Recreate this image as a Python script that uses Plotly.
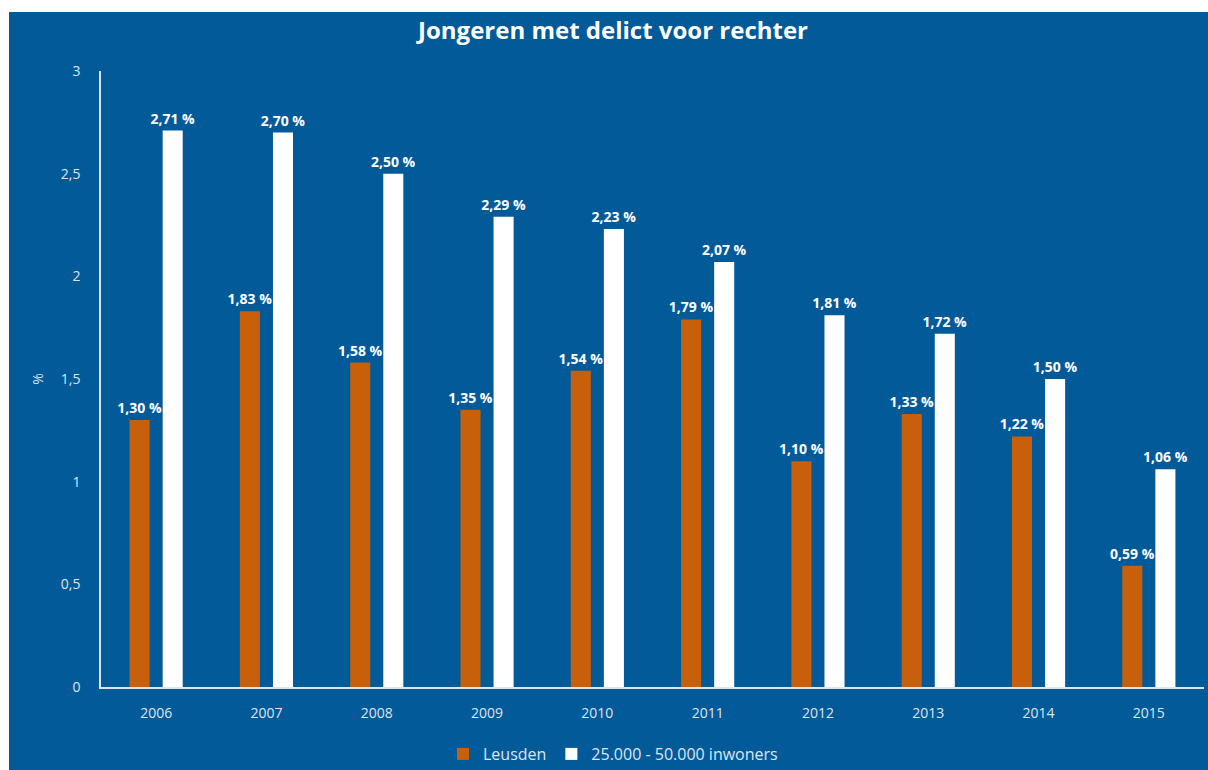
import plotly.graph_objects as go

years = ["2006", "2007", "2008", "2009", "2010", "2011", "2012", "2013", "2014", "2015"]
leusden = [1.30, 1.83, 1.58, 1.35, 1.54, 1.79, 1.10, 1.33, 1.22, 0.59]
inwoners = [2.71, 2.70, 2.50, 2.29, 2.23, 2.07, 1.81, 1.72, 1.50, 1.06]
y_ticks = [0, 0.5, 1, 1.5, 2, 2.5, 3]

BLUE = "#035a99"
ORANGE = "#c8600b"
LIGHT = "#dbe6f0"
FONT = "Open Sans"

# page margin: 12px top, 9px left; figure fills the rest of the window
W, H = 1199, 758
L, R, T, B = 92, 4, 59, 83

fig = go.Figure()
fig.add_trace(go.Bar(
    x=years, y=leusden, name="Leusden", marker=dict(color=ORANGE, line=dict(width=0)),
    texttemplate="%{y:.2f} %", textposition="outside", cliponaxis=False, constraintext="none",
    textfont=dict(family=FONT, size=14, color="white", weight="bold"),
))
fig.add_trace(go.Bar(
    x=years, y=inwoners, name="25.000 - 50.000 inwoners", marker=dict(color="white", line=dict(width=0)),
    texttemplate="%{y:.2f} %", textposition="outside", cliponaxis=False, constraintext="none",
    textfont=dict(family=FONT, size=14, color="white", weight="bold"),
))

fig.update_layout(
    width=W, height=H,
    margin=dict(l=L, r=R, t=T, b=B),
    paper_bgcolor=BLUE, plot_bgcolor=BLUE,
    separators=",.",
    barmode="group", bargap=0.4, bargroupgap=0.394,
    font=dict(family=FONT, color=LIGHT, size=14),
    title=dict(text="<b>Jongeren met delict voor rechter</b>", x=604 / W, xanchor="center",
               y=1 - 19 / H, yanchor="middle", yref="container",
               font=dict(family=FONT, size=24, color="white")),
    showlegend=True,
    legend=dict(orientation="h", xref="container", yref="container",
                x=604 / W, xanchor="center", y=1 - 742 / H, yanchor="middle",
                font=dict(family=FONT, size=16, color=LIGHT), itemwidth=30,
                bgcolor="rgba(0,0,0,0)"),
    xaxis=dict(type="category", showgrid=False, showline=True, linecolor=LIGHT, linewidth=1.5,
               ticks="", ticklabelstandoff=12, tickfont=dict(size=14, color=LIGHT), zeroline=False),
    yaxis=dict(range=[0, 3], tickvals=y_ticks, showgrid=False, showline=True, linecolor=LIGHT,
               linewidth=1.5, ticks="", ticklabelstandoff=16, zeroline=False,
               tickfont=dict(size=14, color=LIGHT),
               title=dict(text="%", standoff=14, font=dict(size=14, color=LIGHT))),
)

fig.write_html("out.html",
               post_script="document.body.style.margin='12px 0 0 9px';document.body.style.overflow='hidden';")
